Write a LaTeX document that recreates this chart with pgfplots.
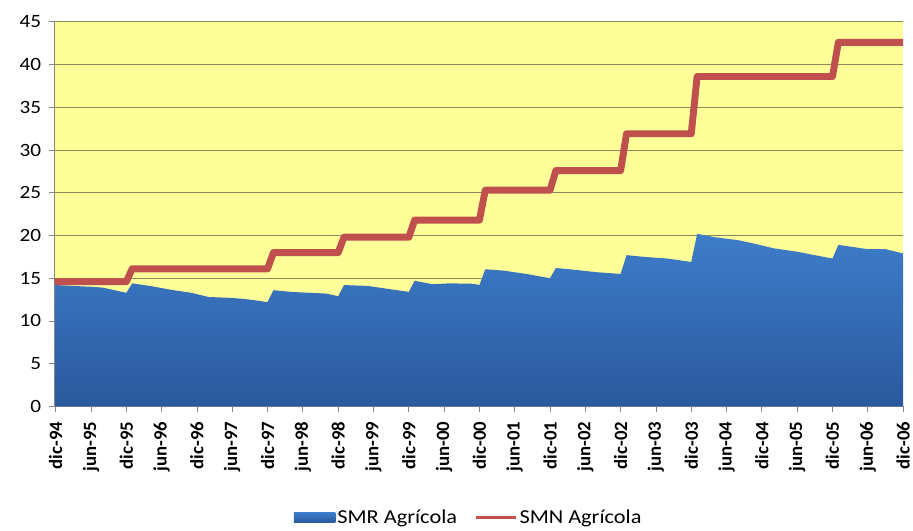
\documentclass[border=0pt]{standalone}
\usepackage{pgfplots}
\pgfplotsset{compat=1.18}
\usepackage{fontspec}
\setmainfont{Carlito}
\newfontfamily\widefont{Carlito}[FakeStretch=1.13]
\definecolor{bgyellow}{RGB}{255,255,153}
\definecolor{gridcol}{RGB}{138,138,96}
\definecolor{axcol}{RGB}{134,134,134}
\definecolor{bluetop}{RGB}{62,125,202}
\definecolor{bluebot}{RGB}{42,88,156}
\definecolor{smnred}{RGB}{192,80,77}
\begin{document}
\begin{tikzpicture}
\useasboundingbox (-55bp,-125bp) rectangle (866bp,410bp);
\begin{axis}[
  name=ax,
  at={(0,0)}, anchor=south west,
  scale only axis,
  width=856bp, height=388bp,
  xmin=-0.2, xmax=144,
  ymin=0, ymax=45,
  axis x line=bottom, axis y line=left,
  axis line style={-, axcol, line width=0.8bp},
  axis background/.style={fill=bgyellow},
  ytick={0,5,...,45},
  xtick={0,6,...,144},
  xticklabels={dic-94,jun-95,dic-95,jun-96,dic-96,jun-97,dic-97,jun-98,dic-98,jun-99,dic-99,jun-00,dic-00,jun-01,dic-01,jun-02,dic-02,jun-03,dic-03,jun-04,dic-04,jun-05,dic-05,jun-06,dic-06},
  ymajorgrids,
  major grid style={gridcol, line width=0.8bp},
  tick align=outside,
  major tick length=6bp,
  tick style={axcol, line width=0.8bp},
  /pgf/number format/assume math mode=true,
  yticklabel style={font=\widefont\fontsize{19}{22}\selectfont, xshift=-4bp},
  xticklabel style={rotate=90, anchor=east, font=\fontsize{19}{22}\selectfont\bfseries, xshift=-6bp},
  legend style={at={(0.488,-0.289)}, anchor=center, draw=none, fill=none,
    legend columns=2, font=\widefont\fontsize{20}{24}\selectfont,
    /tikz/every even column/.append style={column sep=16bp}},
]
\addplot[draw=none, top color=bluetop, bottom color=bluebot,
  legend image code/.code={\fill[bluetop!85!bluebot] (0bp,-5bp) rectangle (42bp,5bp);}]
  coordinates {
  (0,14.2) (3,14.1) (6,14.0) (8,13.9) (10,13.6) (12,13.3)
  (13,14.4) (16,14.1) (20,13.6) (23,13.3) (26,12.8) (30,12.7) (33,12.5) (36,12.2)
  (37,13.6) (40,13.4) (43,13.3) (46,13.2) (48,12.9)
  (49,14.2) (53,14.1) (56,13.8) (60,13.4)
  (61,14.7) (64,14.3) (67,14.4) (71,14.35) (72,14.2)
  (73,16.05) (76,15.9) (80,15.5) (84,15.0)
  (85,16.2) (88,16.0) (92,15.7) (96,15.5)
  (97,17.7) (100,17.5) (104,17.3) (108,16.9)
  (109,20.2) (112,19.8) (116,19.45) (119,19.0) (122,18.5) (126,18.1) (129,17.7) (132,17.3)
  (133,18.9) (136,18.6) (138,18.4) (141,18.4) (144,17.9)
  } \closedcycle;
\addlegendentry{SMR Agrícola}
\addplot[smnred, line width=7bp, line join=round,
  legend image code/.code={\draw[smnred, line width=3bp] (0bp,0bp) -- (40bp,0bp);}]
  coordinates {
  (-1,14.6) (12,14.6) (13,16.1) (36,16.1) (37,18.0) (48,18.0) (49,19.8) (60,19.8)
  (61,21.8) (72,21.8) (73,25.3) (84,25.3) (85,27.6) (96,27.6) (97,31.9) (108,31.9)
  (109,38.6) (132,38.6) (133,42.6) (146,42.6)
  };
\addlegendentry{SMN Agrícola}
\end{axis}
\end{tikzpicture}
\end{document}
